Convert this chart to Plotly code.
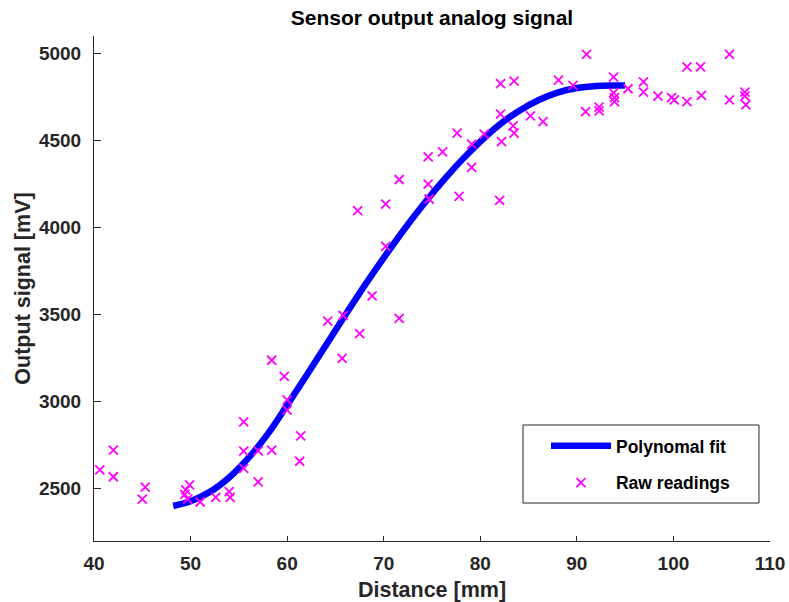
import plotly.graph_objects as go

# Raw sensor readings
raw_x = [40.6, 42.0, 42.0, 45.3, 45.0, 49.5, 49.9, 49.4, 49.7, 51.0, 52.6, 54.0, 54.1,
         55.5, 55.5, 55.5, 57.0, 57.0, 58.4, 60.0, 60.0, 61.4, 61.3, 64.2, 58.4, 59.7,
         70.2, 68.8, 65.8, 67.5, 71.6, 65.7, 67.3, 70.2, 71.6, 74.6, 74.6, 74.7, 76.1,
         77.6, 77.8, 79.1, 79.1, 80.4, 82.1, 83.5, 82.1, 82.2, 82.0, 83.4, 83.5, 85.2,
         86.5, 88.1, 89.6, 91.0, 90.9, 92.3, 92.3, 93.8, 93.8, 93.9, 93.9, 95.3, 96.9,
         96.9, 98.4, 99.8, 100.1, 101.4, 101.4, 102.8, 102.9, 105.8, 105.8, 107.4, 107.4, 107.5]
raw_y = [2608, 2722, 2569, 2509, 2440, 2493, 2522, 2468, 2440, 2424, 2451, 2484, 2451,
         2884, 2716, 2617, 2718, 2539, 2722, 3010, 2951, 2804, 2658, 3463, 3238, 3146,
         3892, 3608, 3495, 3391, 3478, 3249, 4097, 4135, 4276, 4406, 4249, 4164, 4435,
         4542, 4179, 4479, 4345, 4536, 4826, 4841, 4651, 4494, 4156, 4584, 4542, 4641,
         4608, 4847, 4817, 4994, 4666, 4692, 4670, 4864, 4774, 4746, 4723, 4797, 4837,
         4778, 4755, 4746, 4733, 4923, 4723, 4923, 4759, 4994, 4733, 4778, 4755, 4704]

# Polynomial fit curve
fit_x = [48.2, 50, 52, 54, 56, 58, 60, 62, 64, 66, 68, 70, 72, 74, 76, 78, 80, 82, 84, 86, 88, 90, 92, 94, 95]
fit_y = [2401, 2428, 2482, 2565, 2677, 2815, 2980, 3150, 3323, 3496, 3665, 3826, 3980, 4125,
         4259, 4383, 4494, 4591, 4670, 4731, 4775, 4801, 4813, 4816, 4816]

x_ticks = [40, 50, 60, 70, 80, 90, 100, 110]
y_ticks = [2500, 3000, 3500, 4000, 4500, 5000]

FONT = "Liberation Sans, Arial, sans-serif"
AX = "#262626"

fig = go.Figure()
fig.add_trace(go.Scatter(
    x=fit_x, y=fit_y, mode="lines", name="<b>Polynomal fit</b>",
    line=dict(color="#0000FF", width=6.5, shape="spline", smoothing=1.0),
    legendgroup="a"))
fig.add_trace(go.Scatter(
    x=raw_x, y=raw_y, mode="markers", name="<b>Raw readings</b>",
    marker=dict(symbol="x-thin", size=9, line=dict(color="#FF00FF", width=1.8), color="#FF00FF"),
    legendgroup="b"))

# legend frame
fig.add_shape(type="rect", xref="paper", yref="paper",
              x0=0.6346, x1=0.9837, y0=0.0752, y1=0.2297,
              line=dict(color=AX, width=1), fillcolor="white", layer="above")

fig.update_layout(
    width=789, height=602,
    margin=dict(l=94, r=19, t=36, b=61, autoexpand=False),
    paper_bgcolor="white", plot_bgcolor="white",
    font=dict(family=FONT, size=19, color=AX),
    title=dict(text="<b>Sensor output analog signal</b>", x=0.5475, xanchor="center",
               y=0.97, yanchor="middle", font=dict(size=21, color="black", family=FONT)),
    showlegend=True,
    legend=dict(x=0.6686, y=0.2238, xanchor="left", yanchor="top",
                bgcolor="rgba(0,0,0,0)", borderwidth=0,
                font=dict(size=17.5, color="black", family=FONT),
                tracegroupgap=11, itemwidth=60),
    xaxis=dict(range=[40, 110], tickvals=x_ticks, ticktext=[f"<b>{v}</b>" for v in x_ticks],
               ticks="inside", ticklen=5, tickcolor=AX, showline=True, linecolor=AX,
               linewidth=1, showgrid=False, zeroline=False, mirror=False, ticklabelstandoff=5,
               automargin=False,
               title=dict(text="<b>Distance [mm]</b>", font=dict(size=21.5, color=AX), standoff=12)),
    yaxis=dict(range=[2200, 5100], tickvals=y_ticks, ticktext=[f"<b>{v}</b>" for v in y_ticks],
               ticks="inside", ticklen=7, tickcolor=AX, showline=True, linecolor=AX,
               linewidth=1, showgrid=False, zeroline=False, mirror=False, ticklabelstandoff=8,
               automargin=False,
               title=dict(text="<b>Output signal [mV]</b>", font=dict(size=21.5, color=AX), standoff=2)),
)

fig.write_html("out.html")
